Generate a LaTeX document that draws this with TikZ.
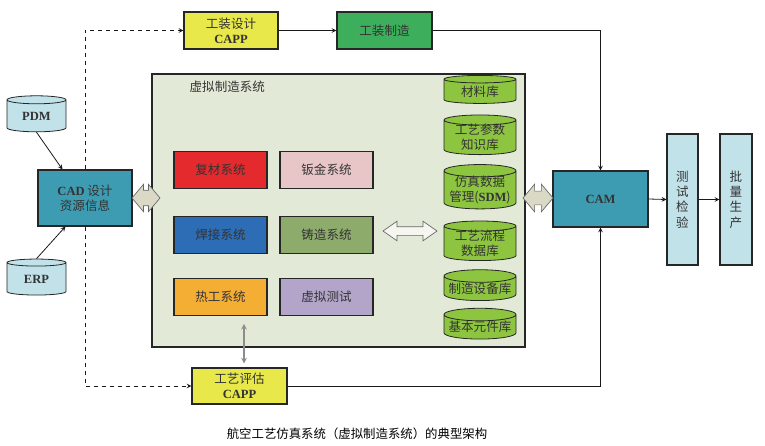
\documentclass[tikz,border=0pt]{standalone}
\usepackage{fontspec}
\setmainfont{Noto Sans CJK SC}
\newfontfamily\latfont{Liberation Serif}
\usetikzlibrary{positioning,shapes.geometric,shapes.arrows}
\newcommand{\lat}[1]{{\latfont\bfseries #1}}
\definecolor{capp}{HTML}{E9E84B}
\definecolor{toolgreen}{HTML}{3DAE5B}
\definecolor{teal}{HTML}{3E9CB2}
\definecolor{paleblue}{HTML}{C2E2EA}
\definecolor{vmback}{HTML}{E3E9D7}
\definecolor{dbgreen}{HTML}{8DC540}
\definecolor{arrowfill}{HTML}{D9D9C6}
\tikzset{
    blk/.style={draw=black!85,line width=0.8pt,align=center,text=black!80,inner sep=0pt},
    sysbox/.style={blk,minimum width=69.75pt,minimum height=27.5pt},
    dbcyl/.style={draw=black!85,line width=0.6pt,cylinder,shape border rotate=90,aspect=0.2,
        align=center,text=black!80,inner sep=0pt,fill=dbgreen,minimum width=54pt},
    tallcyl/.style={dbcyl,inner ysep=-0.8pt,font=\fontsize{9.4}{11}\selectfont},
    link/.style={->,>=stealth,line width=0.6pt,black!90},
    fat/.style={double arrow,draw=black!60,fill=arrowfill,inner xsep=0pt,line width=0.5pt}
}
\begin{document}
\begin{tikzpicture}[x=0.75pt,y=-0.75pt,font=\fontsize{9.4}{11.5}\selectfont]
    \useasboundingbox (0,0) rectangle (765,446);
    \node[blk,fill=vmback,minimum width=279.75pt,minimum height=204.75pt] (vm) at (338.5,210.5) {};
    \node[anchor=west,text=black!80] (vmlbl) at (185,87) {虚拟制造系统};
    % top row
    \node[blk,fill=capp,minimum width=70.5pt,minimum height=27.75pt] (gzsj) at (231,30.5) {工装设计\\\lat{CAPP}};
    \node[blk,fill=toolgreen,minimum width=71.25pt,minimum height=27.75pt] (gzzz) at (384.5,30.5) {工装制造};
    % left side
    \node[blk,fill=teal,minimum width=70.5pt,minimum height=42pt] (cad) at (85,198) {\lat{CAD} 设计\\资源信息};
    \node[dbcyl,fill=paleblue,minimum width=44.25pt,minimum height=27pt,aspect=0.28] (pdm) at (36.5,116) {\lat{PDM}};
    \node[dbcyl,fill=paleblue,minimum width=44.25pt,minimum height=27pt,aspect=0.28] (erp) at (36.5,279) {\lat{ERP}};
    \node[blk,fill=capp,minimum width=71.25pt,minimum height=27pt] (gypg) at (239.5,386) {工艺评估\\\lat{CAPP}};
    % subsystems
    \node[sysbox,fill={rgb,255:red,229;green,42;blue,46}] (fcxt) at (220.5,170) {复材系统};
    \node[sysbox,fill={rgb,255:red,232;green,198;blue,199}] (bjxt) at (326.5,170) {钣金系统};
    \node[sysbox,fill={rgb,255:red,45;green,109;blue,182}] (hjxt) at (220.5,235) {焊接系统};
    \node[sysbox,fill={rgb,255:red,141;green,171;blue,107}] (zzxt) at (326.5,235) {铸造系统};
    \node[sysbox,fill={rgb,255:red,244;green,174;blue,52}] (rgxt) at (220.5,297) {热工系统};
    \node[sysbox,fill={rgb,255:red,179;green,165;blue,201}] (xncs) at (326.5,297) {虚拟测试};
    % databases
    \node[dbcyl,minimum height=21pt] (cllk) at (480,91.5) {材料库};
    \node[tallcyl] (gycs) at (480,137.5) {工艺参数\\知识库};
    \node[tallcyl] (sdm) at (480,190) {仿真数据\\管理(\lat{SDM})};
    \node[tallcyl] (gylc) at (480,243.5) {工艺流程\\数据库};
    \node[dbcyl,minimum height=21pt] (zzsb) at (480,288.5) {制造设备库};
    \node[dbcyl,minimum height=23pt] (jbyj) at (480,327) {基本元件库};
    % right side
    \node[blk,fill=teal,minimum width=71.25pt,minimum height=42pt] (cam) at (600.5,199) {\lat{CAM}};
    \node[blk,fill=paleblue,minimum width=23.25pt,minimum height=98.25pt] (csjy) at (682.5,199.5) {测\\试\\检\\验};
    \node[blk,fill=paleblue,minimum width=24pt,minimum height=98.25pt] (plsc) at (736,199.5) {批\\量\\生\\产};
    % wide arrows
    \node[fat,minimum height=21pt,inner ysep=5.6pt,double arrow head extend=4.5pt,double arrow tip angle=100] (fatl) at (146,198) {};
    \node[fat,fill=white!60!vmback,minimum height=40.5pt,inner ysep=3pt,double arrow head extend=4.1pt,double arrow tip angle=70] (fatm) at (410,231) {};
    \node[fat,minimum height=22.5pt,inner ysep=4.9pt,double arrow head extend=5.25pt,double arrow tip angle=100] (fatr) at (538,198) {};
    % connectors
    \draw[link,dashed] (cad.north) |- (gzsj.west);
    \draw[link,dashed] (cad.south) |- (gypg.west);
    \draw[link] (gzsj.east) -- (gzzz.west);
    \draw[link] (gzzz.east) -| (cam.north);
    \draw[link] (gypg.east) -| (cam.south);
    \draw[link] (pdm.south) -- ([xshift=18.75pt]cad.north west);
    \draw[link] (erp.north) -- ([xshift=21pt]cad.south west);
    \draw[link] (cam.east) -- (csjy.west);
    \draw[link] (csjy.east) -- (plsc.west);
    \draw[<->,>=stealth,line width=0.9pt,black!45,shorten <=6pt,shorten >=3pt] ([xshift=3.4pt]rgxt.south -| gypg.north) -- ([xshift=3.4pt]gypg.north);
    \node[font=\fontsize{9.3}{11}\selectfont] (title) at (357,434) {航空工艺仿真系统（虚拟制造系统）的典型架构};
\end{tikzpicture}
\end{document}
